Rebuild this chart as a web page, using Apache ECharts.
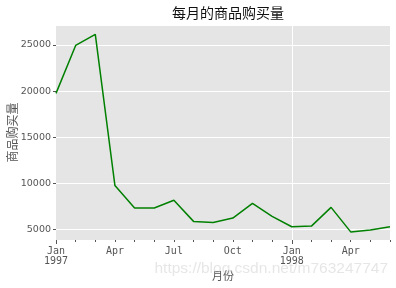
<!DOCTYPE html>
<html>
<head>
<meta charset="utf-8">
<script src="https://cdn.jsdelivr.net/npm/echarts@6/dist/echarts.min.js"></script>
<style>
  html, body { margin: 0; padding: 0; background: #fff; }
  #chart { width: 396px; height: 288px; }
</style>
</head>
<body>
<div id="chart"></div>
<script>
// Monthly purchase quantity, Jan 1997 – Jun 1998
const months = ['1997-01','1997-02','1997-03','1997-04','1997-05','1997-06',
                '1997-07','1997-08','1997-09','1997-10','1997-11','1997-12',
                '1998-01','1998-02','1998-03','1998-04','1998-05','1998-06'];
const quantity = [19750, 24950, 26150, 9750, 7300, 7320,
                  8150, 5860, 5750, 6220, 7820, 6400,
                  5280, 5350, 7380, 4720, 4920, 5280];
const monthNames = ['Jan','Feb','Mar','Apr','May','Jun','Jul','Aug','Sep','Oct','Nov','Dec'];
const quarterMonths = [0, 3, 6, 9];

const titleText = '每月的商品购买量';
const yName = '商品购买量';
const xName = '月份';
const footerText = 'https://blog.csdn.net/m763247747';

const cjk = '"Noto Sans CJK SC", "DejaVu Sans", sans-serif';
const mono = '"DejaVu Sans Mono", "Liberation Mono", monospace';

function tickLabel(value) {
  const [y, m] = value.split('-').map(Number);
  const idx = m - 1;
  if (!quarterMonths.includes(idx)) return '';
  return idx === 0 ? monthNames[idx] + '\n' + y : monthNames[idx];
}

const chart = echarts.init(document.getElementById('chart'), null, { renderer: 'canvas' });

const gridBox = { left: 56, right: 6, top: 25, bottom: 48 };

chart.setOption({
  animation: false,
  backgroundColor: '#ffffff',
  title: {
    text: titleText,
    left: 223, top: 1, textAlign: 'center',
    textStyle: { fontFamily: cjk, fontSize: 14, fontWeight: 'normal', color: '#111' }
  },
  grid: Object.assign({
    show: true, backgroundColor: '#e5e5e5', borderWidth: 0,
    containLabel: false, outerBoundsMode: 'none'
  }, gridBox),
  xAxis: [{
    type: 'category',
    data: months,
    boundaryGap: false,
    axisLine: { show: false },
    axisTick: { show: true, length: 2, interval: 0, lineStyle: { color: '#555', width: 1 } },
    axisLabel: {
      interval: 0, margin: 6, formatter: tickLabel,
      fontFamily: mono, fontSize: 10, color: '#555', lineHeight: 10
    },
    splitLine: {
      show: true,
      interval: (i) => i === 12,
      lineStyle: { color: '#ffffff', width: 1 }
    },
    name: xName,
    nameLocation: 'middle',
    nameGap: 30,
    nameMoveOverlap: false,
    nameTextStyle: { fontFamily: cjk, fontSize: 11, color: '#555' }
  }, {
    type: 'category',
    data: months,
    boundaryGap: false,
    position: 'bottom',
    axisLine: { show: false },
    axisTick: { show: true, length: 4, interval: (i) => i % 12 === 0, lineStyle: { color: '#555', width: 1 } },
    axisLabel: { show: false },
    splitLine: { show: false }
  }],
  yAxis: {
    type: 'value',
    min: 3840,
    max: 27170,
    splitNumber: 5,
    axisLine: { show: false },
    axisTick: { show: true, length: 3, lineStyle: { color: '#555' } },
    axisLabel: {
      showMinLabel: false, showMaxLabel: false, margin: 5,
      formatter: (v) => String(Math.round(v)),
      fontFamily: '"DejaVu Sans", sans-serif', fontSize: 9.5, color: '#555'
    },
    splitLine: { show: true, lineStyle: { color: '#ffffff', width: 1 } },
    name: yName,
    nameLocation: 'middle',
    nameGap: 38,
    nameMoveOverlap: false,
    nameTextStyle: { fontFamily: cjk, fontSize: 12, color: '#555' }
  },
  series: [{
    type: 'line',
    data: quantity,
    showSymbol: false,
    lineStyle: { color: '#008000', width: 1.5 },
    itemStyle: { color: '#008000' }
  }],
  graphic: [{
    type: 'text',
    right: 8, top: 261,
    style: {
      text: footerText,
      font: '15.5px "Liberation Sans", sans-serif',
      fill: 'rgba(200,200,200,0.45)'
    },
    silent: true,
    z: 100
  }]
});
</script>
</body>
</html>
